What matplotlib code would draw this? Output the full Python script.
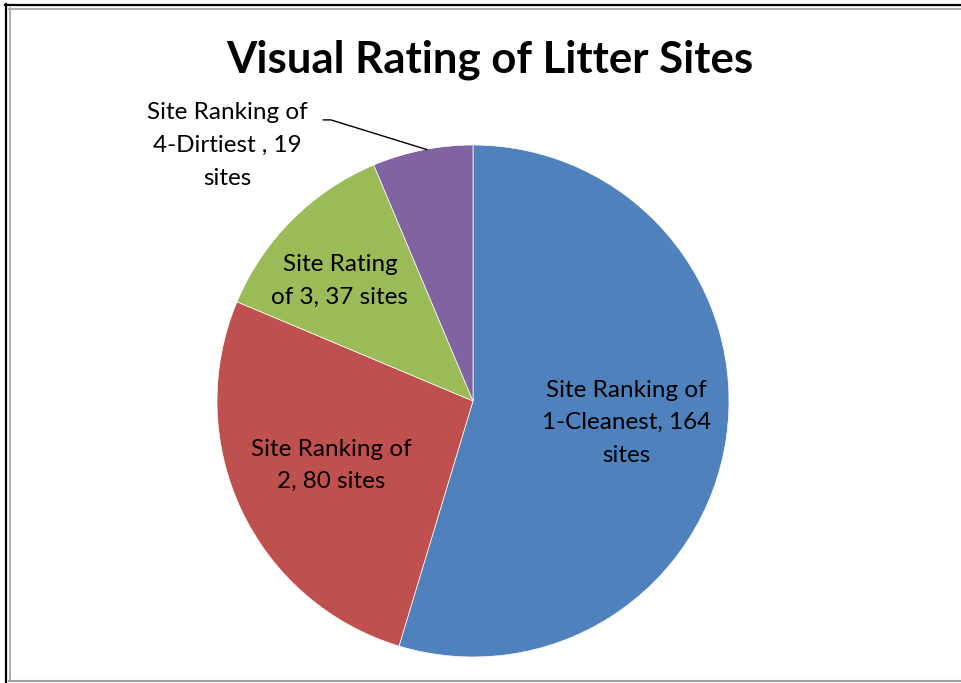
import matplotlib
matplotlib.use("Agg")
import matplotlib.pyplot as plt
from matplotlib.lines import Line2D

plt.rcParams['font.family'] = ['Lato', 'DejaVu Sans']

labels = ["Site Ranking of\n1-Cleanest, 164\nsites",
          "Site Ranking of\n2, 80 sites",
          "Site Rating\nof 3, 37 sites",
          "Site Ranking of\n4-Dirtiest , 19\nsites"]
sites = [164, 80, 37, 19]
colors = ["#4F81BD", "#C0504D", "#9BBB59", "#8064A2"]

# label placement in pie data units (radius 1)
label_pos = [(0.60, -0.085), (-0.555, -0.252), (-0.52, 0.47), (-0.96, 0.998)]

W, H = 962, 683
fig = plt.figure(figsize=(W / 100, H / 100), dpi=100)

# chart frame
def hline(y, x0, x1, c, lw):
    fig.add_artist(Line2D([x0 / W, x1 / W], [1 - y / H, 1 - y / H], color=c, lw=lw))

def vline(x, y0, y1, c, lw):
    fig.add_artist(Line2D([x / W, x / W], [1 - y0 / H, 1 - y1 / H], color=c, lw=lw))

hline(4.5, 5, W, "black", 1.6)
vline(6, 4, H, "black", 1.6)
hline(8.5, 9, W, "#a0a0a0", 1.2)
vline(10, 8, 681, "#a0a0a0", 1.2)
hline(681, 9, W, "#a0a0a0", 1.5)

cx, cy, r = 473, 401, 256
ax = fig.add_axes([(cx - r) / W, (H - cy - r) / H, 2 * r / W, 2 * r / H])
ax.pie(sites, colors=colors, startangle=90, counterclock=False,
       wedgeprops=dict(linewidth=0.5, edgecolor="white"))
ax.set_xlim(-1, 1)
ax.set_ylim(-1, 1)
ax.set_aspect("equal")
ax.axis("off")

for lab, (x, y) in zip(labels, label_pos):
    ax.text(x, y, lab, ha="center", va="center", fontsize=17.5,
            color="black", linespacing=1.68, clip_on=False)

# leader line for the small slice
ax.plot([-0.585, -0.555, -0.18], [1.098, 1.098, 0.982], color="black",
        lw=1.0, clip_on=False)

fig.text(490 / W, 1 - 60 / H, "Visual Rating of Litter Sites",
         ha="center", va="center", fontsize=31.5, fontweight="bold")

fig.savefig("out.png", dpi=100)
